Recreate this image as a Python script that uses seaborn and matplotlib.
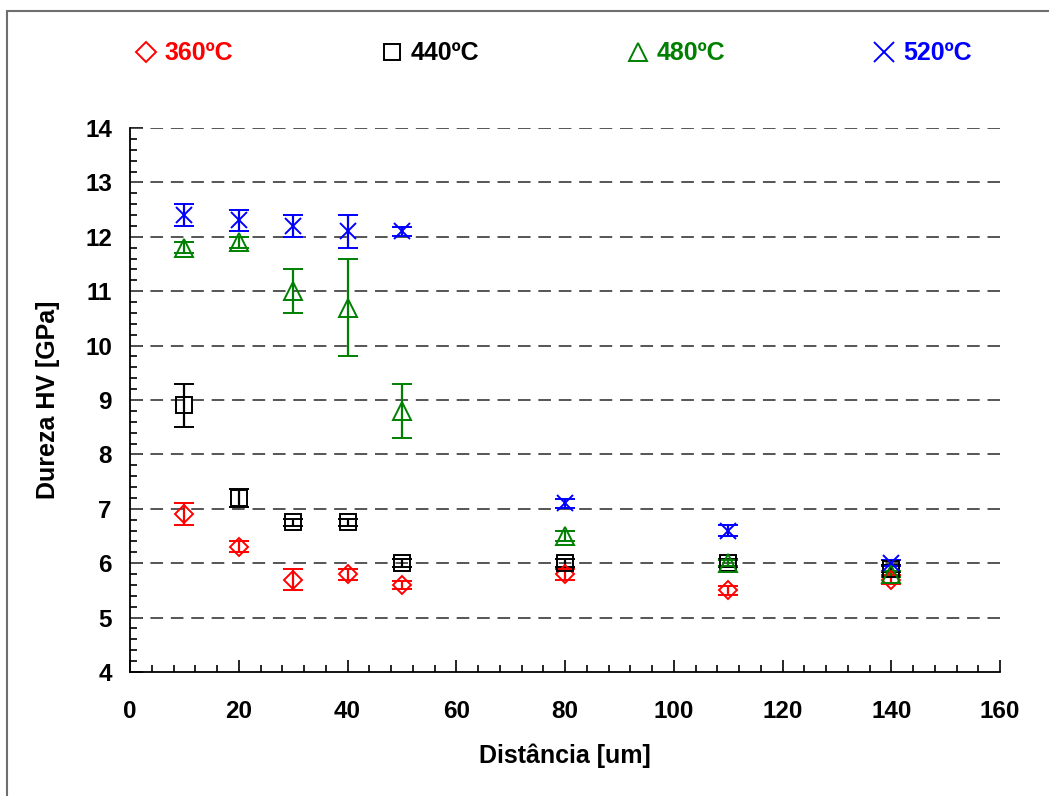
import matplotlib
matplotlib.use("Agg")
import matplotlib.pyplot as plt
import seaborn as sns
import numpy as np
from matplotlib.lines import Line2D
from matplotlib.patches import Rectangle
from matplotlib.ticker import MultipleLocator

# distance along the profile [um]
distance = [10, 20, 30, 40, 50, 80, 110, 140]

# hardness HV [GPa] and std deviation, one pair per temperature
hv_360 = [6.9, 6.3, 5.7, 5.8, 5.6, 5.8, 5.5, 5.7]
err_360 = [0.2, 0.1, 0.2, 0.1, 0.08, 0.1, 0.08, 0.08]
hv_440 = [8.9, 7.2, 6.75, 6.75, 6.0, 6.0, 6.0, 5.9]
err_440 = [0.4, 0.17, 0.07, 0.07, 0.07, 0.07, 0.07, 0.07]
hv_480 = [11.8, 11.9, 11.0, 10.7, 8.8, 6.5, 6.0, 5.8]
err_480 = [0.1, 0.1, 0.4, 0.9, 0.5, 0.1, 0.06, 0.06]
hv_520 = [12.4, 12.3, 12.2, 12.1, 12.1, 7.1, 6.6, 6.0]
err_520 = [0.2, 0.2, 0.2, 0.3, 0.08, 0.08, 0.1, 0.05]

labels = ["360ºC", "440ºC", "480ºC", "520ºC"]
colors = ["#ff0000", "#000000", "#008000", "#0000ff"]
markers = ["D", "s", "^", "x"]
msizes = [9.5, 11, 13.5, 12]

sns.set_theme(style="ticks")
plt.rcParams['font.family'] = ['Liberation Sans', 'DejaVu Sans']
plt.rcParams['font.weight'] = 'bold'
plt.rcParams['text.color'] = 'black'
plt.rcParams['axes.labelcolor'] = 'black'
plt.rcParams['xtick.color'] = 'black'
plt.rcParams['ytick.color'] = 'black'

fig = plt.figure(figsize=(10.49, 7.96), dpi=100)
ax = fig.add_axes([130 / 1049, 1 - 672 / 796, 870 / 1049, 544 / 796])

series = [(hv_360, err_360), (hv_440, err_440), (hv_480, err_480), (hv_520, err_520)]
for (vals, errs), col, mk, ms in zip(series, colors, markers, msizes):
    ax.errorbar(distance, vals, yerr=errs, fmt=mk, color=col, mfc='none', mec=col,
                ms=ms, mew=1.4, elinewidth=1.6, capsize=7, capthick=1.6, zorder=3)

ax.set_xlim(0, 160)
ax.set_ylim(4, 14)
ax.xaxis.set_major_locator(MultipleLocator(20))
ax.xaxis.set_minor_locator(MultipleLocator(4))
ax.yaxis.set_major_locator(MultipleLocator(1))
ax.yaxis.set_minor_locator(MultipleLocator(0.2))
ax.tick_params(which='both', direction='in', color='black', labelcolor='black', width=1.2)
ax.tick_params(which='major', length=9, labelsize=17.5)
ax.tick_params(which='minor', length=5)
ax.tick_params(axis='x', which='major', pad=20)
ax.tick_params(axis='y', which='major', pad=13)
for t in ax.get_xticklabels() + ax.get_yticklabels():
    t.set_fontweight('bold')

sns.despine(ax=ax)
for s in ['left', 'bottom']:
    ax.spines[s].set_color('black')
    ax.spines[s].set_linewidth(1.3)

for y in range(5, 15):
    ax.axhline(y, color='#555555', lw=1.4, ls=(0, (6.5, 4)), zorder=1)

ax.set_xlabel("Distância [um]", fontsize=18, fontweight='bold', labelpad=15)
ax.set_ylabel("Dureza HV [GPa]", fontsize=18, fontweight='bold', labelpad=18)

handles = [Line2D([], [], ls='none', marker=mk, color=col, mfc='none', mec=col,
                  ms=ms, mew=1.4)
           for col, mk, ms in zip(colors, markers, [10, 11, 13, 14])]
leg = fig.legend(handles, labels, loc='center', bbox_to_anchor=(0.528, 0.933), ncol=4,
                 frameon=False, handlelength=0.8, handletextpad=0.35, columnspacing=5.95,
                 prop={'size': 18, 'weight': 'bold'})
for txt, col in zip(leg.get_texts(), colors):
    txt.set_color(col)

fig.patches.append(Rectangle((7 / 1049, -0.1), 1.2, 1 - 11 / 796 + 0.1,
                             transform=fig.transFigure, fill=False,
                             edgecolor='#6e6e6e', lw=1.5))

fig.savefig("out.png", dpi=100)
